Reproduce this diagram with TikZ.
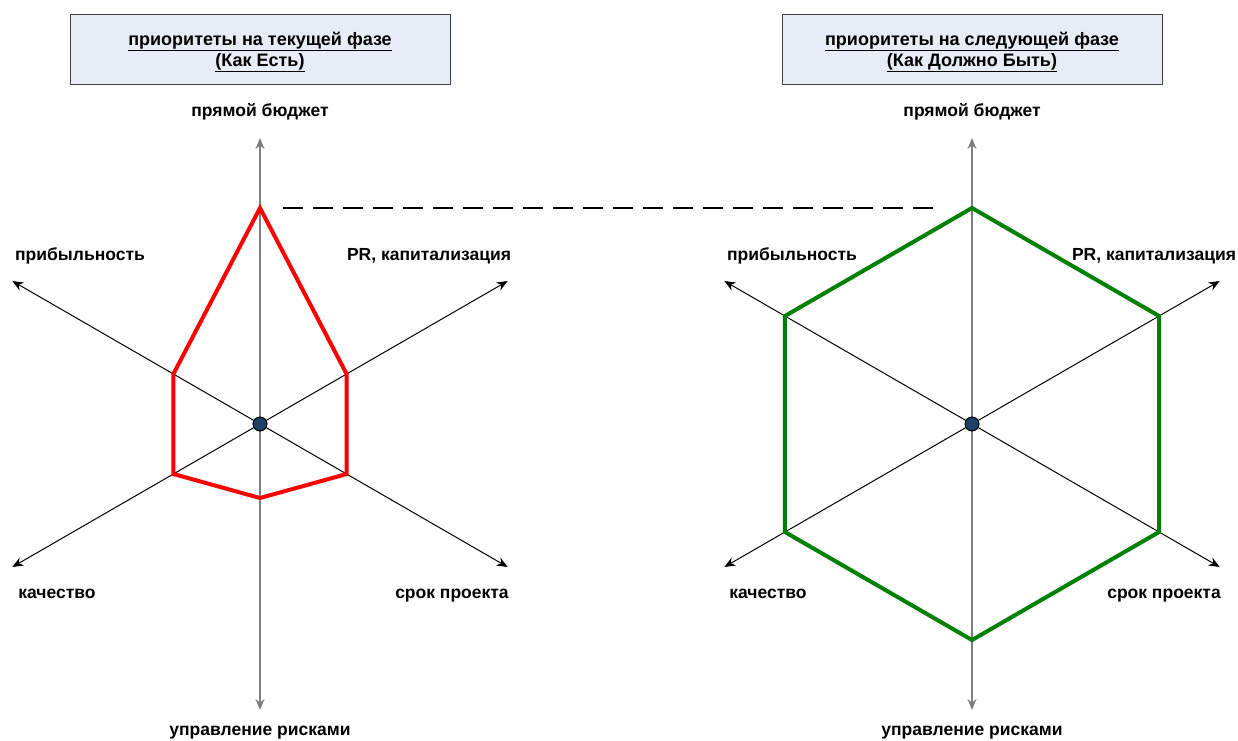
\documentclass[tikz,border=0pt]{standalone}
\usepackage{fontspec}
\setmainfont{Liberation Sans}
\usetikzlibrary{arrows.meta,calc}
\definecolor{AxisGray}{HTML}{7F7F7F}
\definecolor{BoxFill}{HTML}{E7EDF6}
\definecolor{BoxLine}{HTML}{404040}
\definecolor{DotFill}{HTML}{1F3F66}
\definecolor{AsIsLine}{HTML}{FF0000}
\definecolor{ToBeLine}{HTML}{008000}
\tikzset{>={Stealth[length=11pt,width=9pt]},
 every node/.style={font=\bfseries\fontsize{17.5}{21}\selectfont},
 titlebox/.style={draw=BoxLine,line width=1pt,fill=BoxFill,minimum width=380,
 minimum height=70,inner sep=0pt},
 titletext/.style={align=center,inner sep=0pt,font=\bfseries\fontsize{18}{21}\selectfont},
 axis/.style={->,line width=1pt,black},
 mainaxis/.style={->,line width=1.6pt,AxisGray},
 asis/.style={line width=4pt,AsIsLine,line join=miter},
 tobe/.style={line width=4pt,ToBeLine,line join=miter},
 hub/.style={circle,draw=black,line width=1pt,fill=DotFill,minimum size=14,inner sep=0pt},
 axlabel/.style={anchor=base}}

\begin{document}
\begin{tikzpicture}[x=1pt,y=-1pt]
\useasboundingbox (0,0) rectangle (1238,740);
% headers
\node[titlebox] (hdL) at (260,49){};
\node[titlebox] (hdR) at (972,49){};
\node[titletext] (hdtL) at ($(hdL)+(0,3)$){\underline{приоритеты на текущей фазе}\\\underline{(Как Есть)}};
\node[titletext] (hdtR) at ($(hdR)+(0,3)$){\underline{приоритеты на следующей фазе}\\\underline{(Как Должно Быть)}};
% axes of both charts (y grows downward, so -90 is up)
\foreach \cx/\id in {260/L,972/R}{
 \coordinate (c\id) at (\cx,424);
 \foreach \a/\n in {-90/bud,-30/pr,30/term,90/risk,150/qual,210/prof}
  \coordinate (\id\n) at ($(c\id)+(\a:286)$);
 \draw[mainaxis] (c\id)--(\id bud);
 \draw[mainaxis] (c\id)--(\id risk);
 \foreach \n in {pr,term,qual,prof}
  \draw[axis] (c\id)--(\id\n);
}
% labels
\node[axlabel] (lbL1) at (260,116){прямой бюджет};
\node[axlabel] (lbL2) at (429,260){PR, капитализация};
\node[axlabel] (lbL3) at (452,598){срок проекта};
\node[axlabel] (lbL4) at (260,735){управление рисками};
\node[axlabel] (lbL5) at (57,598){качество};
\node[axlabel] (lbL6) at (80,260){прибыльность};
\node[axlabel] (lbR1) at (972,116){прямой бюджет};
\node[axlabel] (lbR2) at (1154,260){PR, капитализация};
\node[axlabel] (lbR3) at (1164,598){срок проекта};
\node[axlabel] (lbR4) at (972,735){управление рисками};
\node[axlabel] (lbR5) at (768,598){качество};
\node[axlabel] (lbR6) at (792,260){прибыльность};
% current priorities
\coordinate (a1) at ($(cL)+(-90:216)$);
\coordinate (a2) at ($(cL)+(-30:100)$);
\coordinate (a3) at ($(cL)+(30:100)$);
\coordinate (a4) at ($(cL)+(90:74)$);
\coordinate (a5) at ($(cL)+(150:100)$);
\coordinate (a6) at ($(cL)+(210:100)$);
\draw[asis] (a1)--(a2)--(a3)--(a4)--(a5)--(a6)--cycle;
% next phase priorities
\foreach \a/\k in {-90/1,-30/2,30/3,90/4,150/5,210/6}
 \coordinate (b\k) at ($(cR)+(\a:216)$);
\draw[tobe] (b1)--(b2)--(b3)--(b4)--(b5)--(b6)--cycle;
% budget level link
\coordinate (dashA) at ($(a1)+(23,0)$);
\coordinate (dashB) at ($(b1)+(-32,0)$);
\draw[line width=2.5pt,dash pattern=on 20pt off 10pt] (dashA)--(dashB);
\node[hub] (hubL) at (cL){};
\node[hub] (hubR) at (cR){};
\end{tikzpicture}
\end{document}
